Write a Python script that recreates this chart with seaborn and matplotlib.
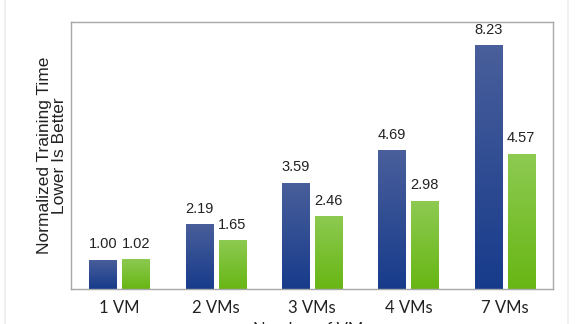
import numpy as np
import pandas as pd
import matplotlib
matplotlib.use("Agg")
import matplotlib.pyplot as plt
from matplotlib.colors import LinearSegmentedColormap
from matplotlib.lines import Line2D
import seaborn as sns

categories = ["1 VM", "2 VMs", "3 VMs", "4 VMs", "7 VMs"]
series_names = ["Series 1", "Series 2"]
series1 = [1.00, 2.19, 3.59, 4.69, 8.23]
series2 = [1.02, 1.65, 2.46, 2.98, 4.57]

df = pd.DataFrame({
    "cat": categories * 2,
    "series": [series_names[0]] * len(categories) + [series_names[1]] * len(categories),
    "value": series1 + series2,
})

sns.set_theme(style="white")
plt.rcParams["font.family"] = ["Liberation Sans", "DejaVu Sans"]

fig = plt.figure(figsize=(5.76, 3.24), dpi=100)
ax = fig.add_axes([71 / 576, 1 - 289.3 / 324, (553 - 71) / 576, (289.3 - 22) / 324])

palette = {series_names[0]: "#2a4790", series_names[1]: "#79c030"}
sns.barplot(data=df, x="cat", y="value", hue="series", palette=palette,
            width=0.684, gap=0.18, legend=False, ax=ax, saturation=1,
            order=categories, hue_order=series_names, edgecolor="none")

grads = {
    series_names[0]: LinearSegmentedColormap.from_list("b", ["#173b8b", "#4a5f9b"]),
    series_names[1]: LinearSegmentedColormap.from_list("g", ["#68b614", "#8dca52"]),
}
grad = np.linspace(0, 1, 256).reshape(-1, 1)
for container, name in zip(ax.containers, series_names):
    for patch in container:
        x0, y0 = patch.get_x(), patch.get_y()
        w, h = patch.get_width(), patch.get_height()
        im = ax.imshow(grad, cmap=grads[name], origin="lower", aspect="auto",
                       extent=[x0, x0 + w, y0, y0 + h], zorder=patch.get_zorder() + 0.1)
        im.set_clip_path(patch)
    ax.bar_label(container, fmt="%.2f", padding=6, fontsize=10.5, color="#222222")

ax.set_xlim(-0.5, 4.5)
ax.set_ylim(0, 9)
ax.set_yticks([])
ax.set_ylabel("Normalized Training Time\nLower Is Better", fontsize=12.5,
              linespacing=0.95, color="#222222", labelpad=3)
ax.set_xlabel("Number of VMs", fontsize=12, family=["Lato", "DejaVu Sans"],
              color="#222222", labelpad=4)
ax.tick_params(axis="x", length=0, pad=8, labelsize=12, labelcolor="#222222")
for lab in ax.get_xticklabels():
    lab.set_family(["Lato", "DejaVu Sans"])
for s in ax.spines.values():
    s.set_color("#a8a8a8")
    s.set_linewidth(1.0)

fig.add_artist(Line2D([4.5 / 576, 4.5 / 576], [0, 1], color="#ececec", lw=1.2))
fig.add_artist(Line2D([568 / 576, 568 / 576], [0, 1], color="#ececec", lw=1.2))

fig.savefig("out.png", dpi=100)
